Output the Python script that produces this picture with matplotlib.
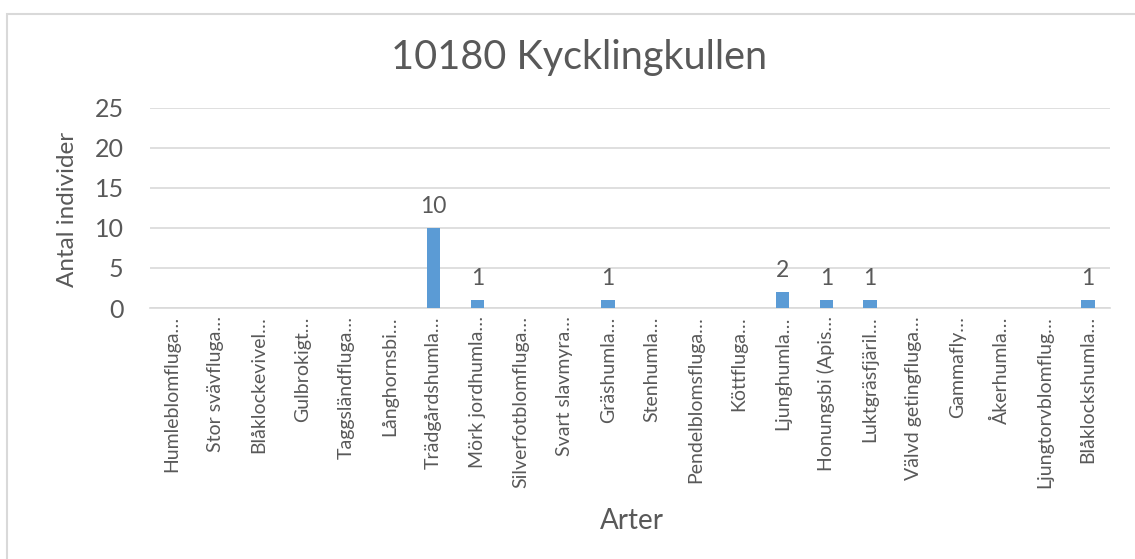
import matplotlib
matplotlib.use("Agg")
import matplotlib.pyplot as plt
from matplotlib.patches import Rectangle

categories = [
    "Humleblomfluga…", "Stor svävfluga…", "Blåklockevivel…", "Gulbrokigt…",
    "Taggsländfluga…", "Långhornsbi…", "Trädgårdshumla…", "Mörk jordhumla…",
    "Silverfotblomfluga…", "Svart slavmyra…", "Gräshumla…", "Stenhumla…",
    "Pendelblomsfluga…", "Köttfluga…", "Ljunghumla…", "Honungsbi (Apis…",
    "Luktgräsfjäril…", "Välvd getingfluga…", "Gammafly…", "Åkerhumla…",
    "Ljungtorvblomflug…", "Blåklockshumla…",
]
values = [0, 0, 0, 0, 0, 0, 10, 1, 0, 0, 1, 0, 0, 0, 2, 1, 1, 0, 0, 0, 0, 1]
yticks = [0, 5, 10, 15, 20, 25]
title = "10180 Kycklingkullen"
ylabel = "Antal individer"
xlabel = "Arter"

plt.rcParams['font.family'] = ['Lato', 'DejaVu Sans']
txt = "#595959"

W, H = 1135, 559
fig = plt.figure(figsize=(W / 100, H / 100), dpi=100)
ax = fig.add_axes([150 / W, 1 - 308 / H, (1110 - 150) / W, (308 - 108) / H])

x = list(range(len(categories)))
bars = ax.bar(x, values, width=0.31, color="#5B9BD5", zorder=3)
for xi, v in zip(x, values):
    if v > 0:
        ax.annotate(str(v), (xi, v), xytext=(0, 8), textcoords="offset points",
                    ha="center", va="bottom", fontsize=16.5, color=txt)

ax.set_xlim(-0.5, len(categories) - 0.5)
ax.set_ylim(0, 25)
ax.set_yticks(yticks)
ax.set_xticks(x)
ax.set_xticklabels(categories, rotation=90, fontsize=14, color=txt)
ax.tick_params(axis="y", labelsize=18, labelcolor=txt, length=0, pad=19)
ax.tick_params(axis="x", length=0, pad=6)
ax.yaxis.grid(True, color="#D9D9D9", linewidth=1.2, zorder=0)
ax.set_axisbelow(True)
for s in ["top", "right", "left"]:
    ax.spines[s].set_visible(False)
ax.spines["bottom"].set_color("#D9D9D9")
ax.spines["bottom"].set_linewidth(1.2)

fig.text(68 / W, 1 - 209 / H, ylabel, rotation=90, ha="center", va="center",
         fontsize=17.5, color=txt)
fig.text(632 / W, 1 - 521 / H, xlabel, ha="center", va="center",
         fontsize=20, color=txt)
fig.text(579 / W, 1 - 57 / H, title, ha="center", va="center",
         fontsize=28.5, color=txt)

fig.patches.append(Rectangle((7 / W, -0.1), 1.2, 1.1 - 14 / H, transform=fig.transFigure,
                             fill=False, edgecolor="#D9D9D9", linewidth=1.5))

fig.savefig("out.png", dpi=100)
